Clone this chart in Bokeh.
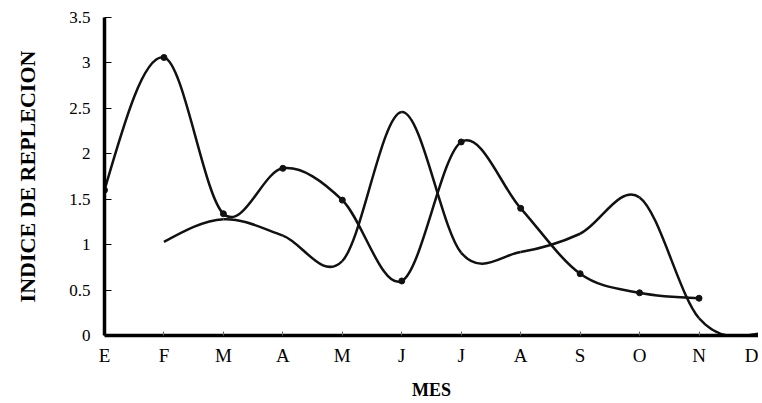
from bokeh.plotting import figure
from bokeh.models import ColumnDataSource, FixedTicker, Range1d
from bokeh.embed import file_html
from bokeh.resources import INLINE

# ---- data ----
months = ["E", "F", "M", "A", "M", "J", "J", "A", "S", "O", "N", "D"]
y_ticks = [0, 0.5, 1, 1.5, 2, 2.5, 3, 3.5]
y_tick_labels = ["0", "0.5", "1", "1.5", "2", "2.5", "3", "3.5"]

# series with markers (E .. N)
s1_idx = [0, 1, 2, 3, 4, 5, 6, 7, 8, 9, 10]
s1_val = [1.60, 3.06, 1.34, 1.84, 1.49, 0.60, 2.13, 1.40, 0.68, 0.47, 0.41]

# series without markers (F .. D)
s2_idx = [1, 2, 3, 4, 5, 6, 7, 8, 9, 10, 11]
s2_val = [1.03, 1.28, 1.10, 0.82, 2.46, 0.91, 0.92, 1.12, 1.52, 0.19, 0.02]


def smooth_segments(xs, ys):
    """Cubic Bezier control points (Catmull-Rom tangents, natural ends)."""
    n = len(xs)
    tx = [0.0] * n
    ty = [0.0] * n
    for i in range(1, n - 1):
        tx[i] = (xs[i + 1] - xs[i - 1]) / 2.0
        ty[i] = (ys[i + 1] - ys[i - 1]) / 2.0
    tx[0] = (3 * (xs[1] - xs[0]) - tx[1]) / 2.0
    ty[0] = (3 * (ys[1] - ys[0]) - ty[1]) / 2.0
    tx[-1] = (3 * (xs[-1] - xs[-2]) - tx[-2]) / 2.0
    ty[-1] = (3 * (ys[-1] - ys[-2]) - ty[-2]) / 2.0
    d = dict(x0=[], y0=[], x1=[], y1=[], cx0=[], cy0=[], cx1=[], cy1=[])
    for i in range(n - 1):
        d["x0"].append(xs[i]); d["y0"].append(ys[i])
        d["x1"].append(xs[i + 1]); d["y1"].append(ys[i + 1])
        d["cx0"].append(xs[i] + tx[i] / 3.0)
        d["cy0"].append(ys[i] + ty[i] / 3.0)
        d["cx1"].append(xs[i + 1] - tx[i + 1] / 3.0)
        d["cy1"].append(ys[i + 1] - ty[i + 1] / 3.0)
    return ColumnDataSource(d)


p = figure(
    width=758, height=395,
    frame_width=654, frame_height=318,
    output_backend="svg", toolbar_location=None,
    x_range=Range1d(0, 11), y_range=Range1d(0, 3.5),
    min_border_left=104, min_border_top=17, min_border_right=0, min_border_bottom=60,
)
p.outline_line_color = None
p.xgrid.visible = False
p.ygrid.visible = False
p.background_fill_color = "white"
p.border_fill_color = "white"

col = "#111111"
p.bezier(x0="x0", y0="y0", x1="x1", y1="y1", cx0="cx0", cy0="cy0", cx1="cx1", cy1="cy1",
         source=smooth_segments(s1_idx, s1_val), line_color=col, line_width=2.5)
p.bezier(x0="x0", y0="y0", x1="x1", y1="y1", cx0="cx0", cy0="cy0", cx1="cx1", cy1="cy1",
         source=smooth_segments(s2_idx, s2_val), line_color=col, line_width=2.5)
p.scatter(s1_idx, s1_val, size=6, color=col)

serif = "Liberation Serif"

# x axis
xa = p.xaxis[0]
xa.ticker = FixedTicker(ticks=list(range(len(months))))
xa.major_label_overrides = {i: m for i, m in enumerate(months)}
xa.axis_line_width = 3.5
xa.axis_line_color = "black"
xa.major_tick_in = 4
xa.major_tick_out = 0
xa.major_tick_line_color = "#666666"
xa.minor_tick_line_color = None
xa.major_label_text_font = serif
xa.major_label_text_font_size = "19px"
xa.major_label_text_color = "black"
xa.major_label_standoff = 9
xa.axis_label = "MES"
xa.axis_label_text_font = serif
xa.axis_label_text_font_style = "bold"
xa.axis_label_text_font_size = "18px"
xa.axis_label_text_color = "black"
xa.axis_label_standoff = 11

# y axis
ya = p.yaxis[0]
ya.ticker = FixedTicker(ticks=y_ticks)
ya.major_label_overrides = {v: s for v, s in zip(y_ticks, y_tick_labels)}
ya.axis_line_width = 3.5
ya.axis_line_color = "black"
ya.major_tick_in = 7
ya.major_tick_out = 0
ya.major_tick_line_width = 1
ya.major_tick_line_color = "black"
ya.minor_tick_line_color = None
ya.major_label_text_font = serif
ya.major_label_text_font_size = "17px"
ya.major_label_text_color = "black"
ya.major_label_standoff = 14
ya.axis_label = "INDICE DE REPLECION"
ya.axis_label_text_font = serif
ya.axis_label_text_font_style = "bold"
ya.axis_label_text_font_size = "22px"
ya.axis_label_text_color = "black"
ya.axis_label_standoff = 26

open("out.html", "w").write(file_html(p, INLINE))
